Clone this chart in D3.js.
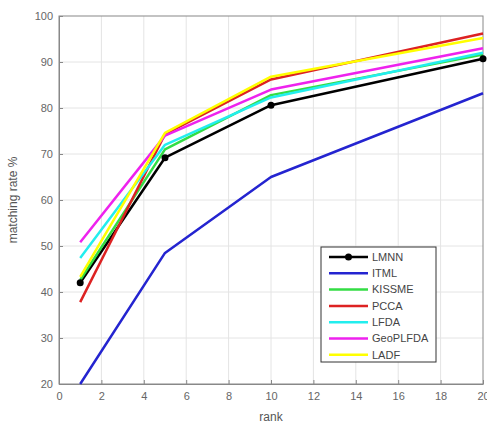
<!DOCTYPE html>
<html lang="en">
<head>
    <meta charset="UTF-8">
    <title>matching rate</title>
    <script src="https://cdnjs.cloudflare.com/ajax/libs/d3/7.8.2/d3.min.js"></script>
    <style>
        body { margin: 0; background: #fff; }
        svg { display: block; font-family: "Liberation Sans", Arial, sans-serif; }
        .tick text { fill: #666; font-size: 11px; }
    </style>
</head>
<body>
    <div class="container"></div>
    <script>
        // data
        const ranks = [1, 5, 10, 20];
        const names = ['LMNN', 'ITML', 'KISSME', 'PCCA', 'LFDA', 'GeoPLFDA', 'LADF'];
        const colors = ['#000000', '#2424d0', '#33dd44', '#dd2222', '#22eeee', '#ee22ee', '#ffff00'];
        const lmnn = [42, 69.2, 80.6, 90.7];
        const itml = [20, 48.5, 65, 83.2];
        const kissme = [42.6, 71, 82.8, 91.6];
        const pcca = [37.8, 74.3, 86.2, 96.2];
        const lfda = [47.4, 72, 82.3, 92];
        const geoplfda = [50.8, 74, 84, 93];
        const ladf = [43.3, 74.6, 86.8, 95.2];
        const xTicks = [0, 2, 4, 6, 8, 10, 12, 14, 16, 18, 20];
        const yTicks = [20, 30, 40, 50, 60, 70, 80, 90, 100];

        const allSeries = [lmnn, itml, kissme, pcca, lfda, geoplfda, ladf];

        let width = 487;
        let height = 423;
        let plotL = 59, plotR = 483, plotT = 16, plotB = 384;

        const svg = d3.select('.container').append('svg')
            .attr('width', width).attr('height', height)

        const xScale = d3.scaleLinear().domain([0, 20]).range([plotL, plotR])
        const yScale = d3.scaleLinear().domain([20, 100]).range([plotB, plotT])

        // grid
        svg.append('g').selectAll('line').data(xTicks.slice(1, -1)).enter().append('line')
            .attr('x1', d => xScale(d)).attr('x2', d => xScale(d))
            .attr('y1', plotT).attr('y2', plotB)
            .style('stroke', '#e4e4e4').style('stroke-width', 1)
        svg.append('g').selectAll('line').data(yTicks.slice(1, -1)).enter().append('line')
            .attr('x1', plotL).attr('x2', plotR)
            .attr('y1', d => yScale(d)).attr('y2', d => yScale(d))
            .style('stroke', '#e4e4e4').style('stroke-width', 1)

        // axes
        const xAxis = d3.axisBottom(xScale).tickValues(xTicks).tickSizeInner(-4).tickSizeOuter(0).tickPadding(8)
        svg.append('g').attr('transform', `translate(0,${plotB})`).call(xAxis)
        const yAxis = d3.axisLeft(yScale).tickValues(yTicks).tickSizeInner(-4).tickSizeOuter(0).tickPadding(6)
        svg.append('g').attr('transform', `translate(${plotL},0)`).call(yAxis)
        svg.selectAll('.domain').style('stroke', '#888')
        svg.selectAll('.tick line').style('stroke', '#888')

        // box
        svg.append('rect')
            .attr('x', plotL).attr('y', plotT)
            .attr('width', plotR - plotL).attr('height', plotB - plotT)
            .style('fill', 'none').style('stroke', '#888')

        // lines
        const line = d3.line().x((d, i) => xScale(ranks[i])).y(d => yScale(d))
        allSeries.forEach((s, k) => {
            svg.append('path')
                .datum(s)
                .attr('d', line)
                .style('fill', 'none')
                .style('stroke', colors[k])
                .style('stroke-width', 2.5)
                .style('stroke-linejoin', 'round')
        })
        // LMNN markers
        svg.append('g').selectAll('circle').data(lmnn).enter().append('circle')
            .attr('cx', (d, i) => xScale(ranks[i]))
            .attr('cy', d => yScale(d))
            .attr('r', 3.5)
            .style('fill', '#000')

        // axis labels
        svg.append('text').text('rank')
            .attr('x', (plotL + plotR) / 2).attr('y', 421)
            .style('text-anchor', 'middle').style('font-size', '12px').style('fill', '#555')
        svg.append('text').text('matching rate %')
            .attr('transform', `translate(17,${(plotT + plotB) / 2}) rotate(-90)`)
            .style('text-anchor', 'middle').style('font-size', '12px').style('fill', '#555')

        // legend
        const lg = svg.append('g').attr('transform', 'translate(321,247)')
        lg.append('rect').attr('width', 115).attr('height', 115)
            .style('fill', '#fff').style('stroke', '#333')
        const items = lg.selectAll('g').data(names).enter().append('g')
            .attr('transform', (d, i) => `translate(0,${10 + i * 16.3})`)
        items.append('line')
            .attr('x1', 8).attr('x2', 47)
            .style('stroke', (d, i) => colors[i]).style('stroke-width', 2.5)
        items.filter((d, i) => i === 0).append('circle')
            .attr('cx', 27.5).attr('r', 3.5).style('fill', '#000')
        items.append('text').text(d => d)
            .attr('x', 51).attr('dy', '0.35em')
            .style('font-size', '11px').style('fill', '#444')
    </script>
</body>
</html>
